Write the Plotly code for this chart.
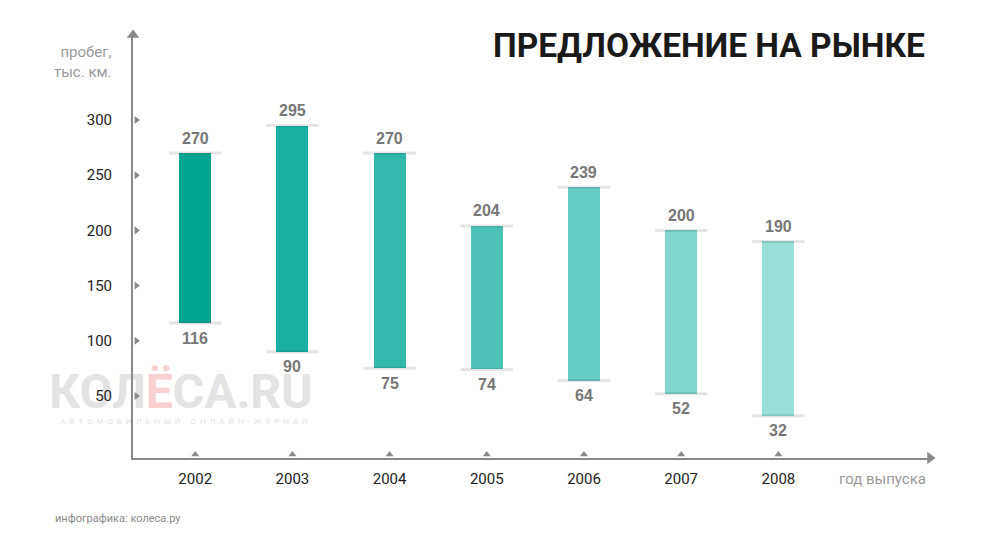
import plotly.graph_objects as go

years = ["2002", "2003", "2004", "2005", "2006", "2007", "2008"]
high = [270, 295, 270, 204, 239, 200, 190]
low = [116, 90, 75, 74, 64, 52, 32]
colors = ["#00A692", "#19B0A1", "#33B9AB", "#4DC3B7", "#66CCC3", "#80D5CD", "#99DED7"]
yticks = [50, 100, 150, 200, 250, 300]

XMIN, XMAX = -0.64, 7.56
YMIN, YMAX = -6.2, 377
AX = "#8a8a8a"
W, H = 991, 553
ML, MR, MT, MB = 133, 61, 35, 95
PW, PH = W - ML - MR, H - MT - MB


def px(x):
    return (x - ML) / PW


def py(y):
    return (H - MB - y) / PH


def dx(x):
    return XMIN + px(x) * (XMAX - XMIN)


def dy(y):
    return YMIN + py(y) * (YMAX - YMIN)


idx = list(range(len(years)))
fig = go.Figure()

# watermark (behind everything)
fig.add_trace(go.Scatter(x=[dx(181)], y=[dy(396)], mode="text", textposition="middle center",
                         text=["<b>КОЛ<span style='color:#f7d0d0'>Ё</span>СА.RU</b>"],
                         textfont=dict(family="Roboto", size=48, color="#e3e3e3"),
                         cliponaxis=False, hoverinfo="skip", showlegend=False))
fig.add_trace(go.Scatter(x=[dx(184)], y=[dy(422)], mode="text", textposition="middle center",
                         text=["&nbsp;&nbsp;".join("АВТОМОБИЛЬНЫЙ") + "&nbsp;&nbsp;&nbsp;&nbsp;&nbsp;"
                               + "&nbsp;&nbsp;".join("ОНЛАЙН-ЖУРНАЛ")],
                         textfont=dict(family="Roboto", size=8, color="#e3e3e3"),
                         cliponaxis=False, hoverinfo="skip", showlegend=False))

# cap shadows
for i, (h, l) in enumerate(zip(high, low)):
    for v in (h, l):
        fig.add_trace(go.Scatter(x=[i - 0.27, i - 0.17, i + 0.17, i + 0.27], y=[v, v, v, v],
                                 mode="lines", line=dict(color="rgba(0,0,0,0.10)", width=3),
                                 hoverinfo="skip", showlegend=False))

fig.add_trace(go.Bar(x=idx, y=[h - l for h, l in zip(high, low)], base=low, width=0.33,
                     marker=dict(color=colors, line=dict(width=0)), showlegend=False))

# axis tick markers
fig.add_trace(go.Scatter(x=[XMIN + 0.035] * len(yticks), y=yticks, mode="markers",
                         marker=dict(symbol="triangle-right", size=7, color=AX),
                         cliponaxis=False, hoverinfo="skip", showlegend=False))
fig.add_trace(go.Scatter(x=idx, y=[YMIN + 3.2] * len(idx), mode="markers",
                         marker=dict(symbol="triangle-up", size=7, color=AX),
                         cliponaxis=False, hoverinfo="skip", showlegend=False))
# axis arrowheads
fig.add_trace(go.Scatter(x=[XMIN], y=[YMAX], mode="markers",
                         marker=dict(symbol="triangle-up", size=11, color=AX),
                         cliponaxis=False, hoverinfo="skip", showlegend=False))
fig.add_trace(go.Scatter(x=[XMAX], y=[YMIN], mode="markers",
                         marker=dict(symbol="triangle-right", size=11, color=AX),
                         cliponaxis=False, hoverinfo="skip", showlegend=False))

anns = []
lblfont = dict(family="Liberation Sans, Arial", size=16, color="#777777")
for i, (h, l) in enumerate(zip(high, low)):
    anns.append(dict(x=i, y=h, text="<b>%d</b>" % h, showarrow=False, yshift=15, font=lblfont))
    anns.append(dict(x=i, y=l, text="<b>%d</b>" % l, showarrow=False, yshift=-15, font=lblfont))

anns += [
    dict(xref="paper", yref="paper", x=px(927), y=py(45), xanchor="right", yanchor="middle",
         text="<b>ПРЕДЛОЖЕНИЕ НА РЫНКЕ</b>", showarrow=False,
         font=dict(family="Roboto", size=33.5, color="#1a1a1a")),
    dict(xref="paper", yref="paper", x=px(114), y=py(62), xanchor="right", yanchor="middle",
         text="пробег,<br>тыс. км.", showarrow=False, align="right",
         font=dict(family="Roboto", size=15, color="#9a9a9a")),
    dict(xref="paper", yref="paper", x=px(928), y=py(479), xanchor="right", yanchor="middle",
         text="год выпуска", showarrow=False,
         font=dict(family="Roboto", size=15, color="#9a9a9a")),
    dict(xref="paper", yref="paper", x=px(53), y=py(518), xanchor="left", yanchor="middle",
         text="инфографика: колеса.ру", showarrow=False,
         font=dict(family="Roboto", size=11, color="#8a8a8a")),
]

fig.update_layout(
    width=W, height=H, margin=dict(l=ML, r=MR, t=MT, b=MB),
    paper_bgcolor="white", plot_bgcolor="white", bargap=0,
    annotations=anns,
    xaxis=dict(range=[XMIN, XMAX], tickvals=idx, ticktext=years, showgrid=False, zeroline=False,
               showline=True, linecolor=AX, linewidth=2, ticks="", ticklabelstandoff=6,
               tickfont=dict(family="Roboto", size=15, color="#222222"), fixedrange=True),
    yaxis=dict(range=[YMIN, YMAX], tickvals=yticks, showgrid=False, zeroline=False,
               showline=True, linecolor=AX, linewidth=2, ticks="", ticklabelstandoff=16,
               tickfont=dict(family="Roboto", size=15, color="#222222"), fixedrange=True),
)

fig.write_html("out.html")
